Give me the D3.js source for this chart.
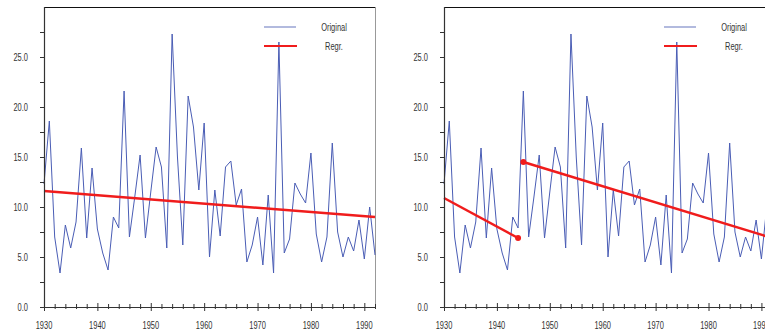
<!DOCTYPE html>
<html>
<head>
<meta charset="utf-8">
<script src="https://cdn.jsdelivr.net/npm/d3@7"></script>
<style>
  body { margin: 0; background: #fff; }
  svg { display: block; }
</style>
</head>
<body>
<div id="chart"></div>
<script>
// annual series (1930 - 1992)
var years = [];
for (var y = 1930; y <= 1992; y++) years.push(y);
var values = [
    12.3, 18.6, 7.0, 3.4, 8.2, 5.9, 8.5, 15.9, 6.9, 13.9,
    7.8, 5.4, 3.7, 9.0, 7.9, 21.6, 7.0, 11.0, 15.2, 6.9,
    11.5, 16.0, 14.0, 5.9, 27.3, 15.0, 6.2, 21.1, 18.0, 11.7,
    18.4, 5.0, 11.7, 7.1, 14.0, 14.6, 10.2, 11.8, 4.5, 6.2,
    9.0, 4.2, 11.2, 3.4, 26.5, 5.4, 6.8, 12.4, 11.3, 10.4,
    15.4, 7.3, 4.5, 7.0, 16.4, 7.5, 5.0, 7.0, 5.6, 8.7,
    4.8, 10.0, 5.2
];

// regression lines (end points)
var regLeftYears = [1930, 1992];
var regLeftVals = [11.6, 9.0];
var regRightYears1 = [1930, 1944];
var regRightVals1 = [10.9, 6.9];
var regRightYears2 = [1945, 1992];
var regRightVals2 = [14.5, 6.9];

// tick labels
var yTickVals = [0, 5, 10, 15, 20, 25];
var yMinorVals = [2.5, 7.5, 12.5, 17.5, 22.5, 27.5];
var xTickYears = [1930, 1940, 1950, 1960, 1970, 1980, 1990];
var legendLabels = ["Original", "Regr."];

var width = 765;
var height = 335;
var plotTop = 7, plotBottom = 307;

var svg = d3.select("#chart")
    .append("svg")
    .attr("width", width)
    .attr("height", height);

// narrow text helper (the original font is a condensed sans)
function label(g, x, y, txt, anchor, size) {
    g.append("g")
        .attr("transform", "translate(" + x + "," + y + ") scale(0.68,1)")
        .append("text")
        .attr("text-anchor", anchor)
        .attr("font-family", "Liberation Sans, Arial, sans-serif")
        .attr("font-size", size || 11)
        .attr("fill", "#333")
        .text(txt);
}

function drawPanel(x0, x1, regs, dots) {
    var g = svg.append("g");

    var x = d3.scaleLinear().domain([1930, 1992]).range([x0, x1]);
    var yS = d3.scaleLinear().domain([0, 30]).range([plotBottom, plotTop]);

    // frame
    g.append("line").attr("x1", x0).attr("x2", x1).attr("y1", plotTop + 0.5).attr("y2", plotTop + 0.5)
        .attr("stroke", "#111").attr("stroke-width", 1.2);
    g.append("line").attr("x1", x1 + 0.5).attr("x2", x1 + 0.5).attr("y1", plotTop).attr("y2", plotBottom)
        .attr("stroke", "#999").attr("stroke-width", 1);

    // data line
    var line = d3.line()
        .x(function(d, i) { return x(years[i]); })
        .y(function(d) { return yS(d); });
    g.append("path")
        .datum(values)
        .attr("d", line)
        .attr("fill", "none")
        .attr("stroke", "#4a5db5")
        .attr("stroke-width", 1);

    // regression segments
    regs.forEach(function(r) {
        var pts = r[0].map(function(yr, i) { return [x(yr), yS(r[1][i])]; });
        g.append("path")
            .attr("d", d3.line()(pts))
            .attr("fill", "none")
            .attr("stroke", "#f01c1c")
            .attr("stroke-width", 2.5);
    });
    dots.forEach(function(p) {
        g.append("circle")
            .attr("cx", x(p[0])).attr("cy", yS(p[1])).attr("r", 3)
            .attr("fill", "#f01c1c");
    });

    // y axis
    g.append("line").attr("x1", x0 + 0.5).attr("x2", x0 + 0.5).attr("y1", plotTop).attr("y2", plotBottom + 1)
        .attr("stroke", "#333").attr("stroke-width", 1.2);
    yTickVals.concat(yMinorVals).forEach(function(v) {
        g.append("line").attr("x1", x0 - 4).attr("x2", x0).attr("y1", yS(v) + 0.5).attr("y2", yS(v) + 0.5)
            .attr("stroke", "#333");
    });
    yTickVals.forEach(function(v) {
        label(g, x0 - 16, yS(v) + 4, d3.format(".1f")(v), "end");
    });

    // x axis
    g.append("line").attr("x1", x0).attr("x2", x1).attr("y1", plotBottom + 0.5).attr("y2", plotBottom + 0.5)
        .attr("stroke", "#333").attr("stroke-width", 1.2);
    for (var yr = 1930; yr <= 1992; yr += 2) {
        var major = (yr % 10 === 0);
        g.append("line")
            .attr("x1", x(yr) + 0.5).attr("x2", x(yr) + 0.5)
            .attr("y1", plotBottom - (major ? 4 : 3)).attr("y2", plotBottom + (major ? 4 : 2))
            .attr("stroke", "#333");
    }
    xTickYears.forEach(function(yr) {
        label(g, x(yr), 329, String(yr), "middle");
    });

    // legend
    var lx = x0 + 220;
    g.append("line").attr("x1", lx).attr("x2", lx + 32).attr("y1", 27).attr("y2", 27)
        .attr("stroke", "#7f8cc8").attr("stroke-width", 1.2);
    g.append("line").attr("x1", lx).attr("x2", lx + 33).attr("y1", 46).attr("y2", 46)
        .attr("stroke", "#f01c1c").attr("stroke-width", 2);
    label(g, lx + 70, 31, legendLabels[0], "middle");
    label(g, lx + 70, 50, legendLabels[1], "middle");
}

// left panel: single trend
drawPanel(44, 375, [[regLeftYears, regLeftVals]], []);

// right panel: broken trend with end markers
drawPanel(444, 772,
    [[regRightYears1, regRightVals1], [regRightYears2, regRightVals2]],
    [[regRightYears1[1], regRightVals1[1]], [regRightYears2[0], regRightVals2[0]]]);
</script>
</body>
</html>
